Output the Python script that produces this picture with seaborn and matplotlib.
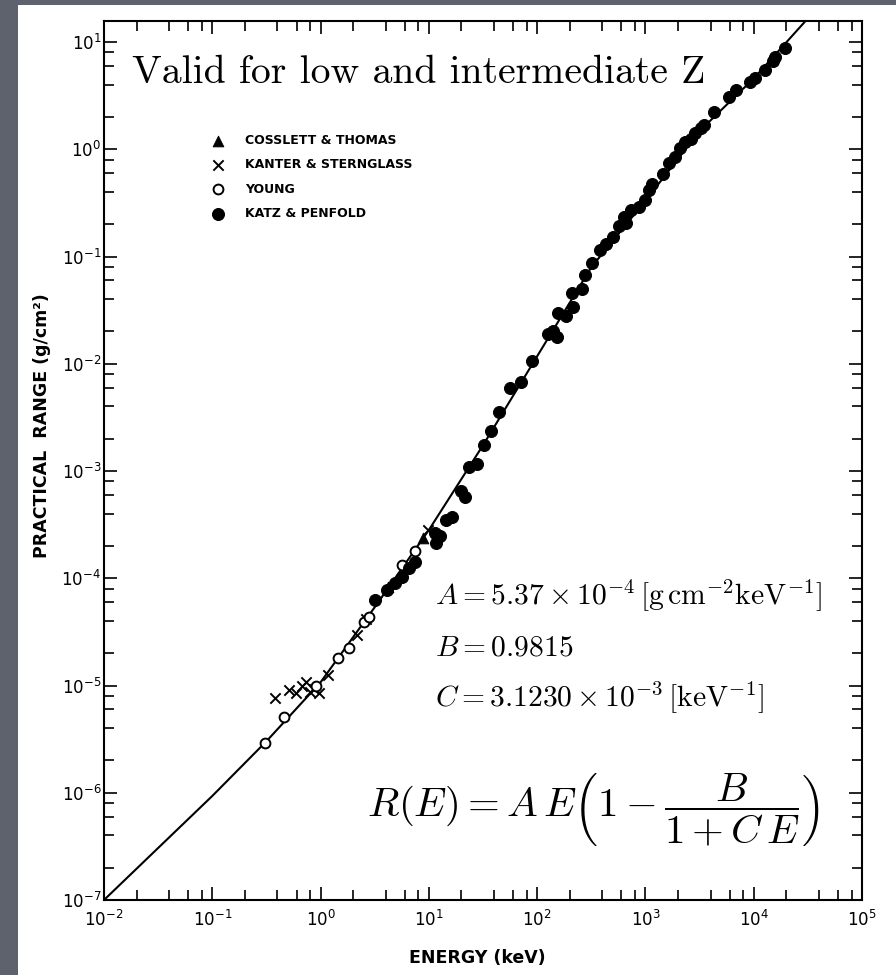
import matplotlib
matplotlib.use('Agg')
import matplotlib.pyplot as plt
import numpy as np
import seaborn as sns
from matplotlib.patches import Rectangle
from matplotlib.ticker import FixedLocator, LogLocator, NullFormatter

# values, stored as log10(energy / keV) and log10(range / g cm^-2)
curve_log_e = [-2.0, -1.0, -0.5, 0.0, 0.5, 1.0, 1.5, 2.0, 2.5, 3.0, 3.5, 4.0, 4.5]
curve_log_r = [-7.0, -6.03, -5.52, -4.97, -4.27, -3.55, -2.76, -1.93, -1.10, -0.48, 0.17, 0.66, 1.22]

cosslett_log_e = [0.62, 0.95]
cosslett_log_r = [-4.08, -3.62]

kanter_log_e = [-0.42, -0.29, -0.23, -0.17, -0.13, -0.10, -0.06, -0.01, 0.07, 0.34, 0.42, 0.99]
kanter_log_r = [-5.12, -5.04, -5.07, -5.00, -4.97, -5.06, -5.03, -5.07, -4.90, -4.53, -4.38, -3.55]

young_log_e = [-0.51, -0.34, -0.04, 0.16, 0.26, 0.40, 0.45, 0.75, 0.87]
young_log_r = [-5.54, -5.29, -5.00, -4.74, -4.65, -4.41, -4.36, -3.88, -3.75]

katz_log_e = [0.50, 0.61, 0.69, 0.75, 0.82, 0.87, 1.07, 1.10, 1.06, 1.16, 1.21, 1.30,
              1.33, 1.37, 1.44, 1.51, 1.57, 1.65, 1.75, 1.85, 1.95, 2.10, 2.18, 2.15,
              2.19, 2.27, 2.33, 2.32, 2.41, 2.44, 2.51, 2.58, 2.64, 2.70, 2.76, 2.82,
              2.80, 2.87, 2.94, 3.00, 3.03, 3.06, 3.16, 3.22, 3.27, 3.32, 3.37, 3.42,
              3.46, 3.51, 3.54, 3.63, 3.77, 3.84, 3.97, 4.01, 4.10, 4.18, 4.20, 4.29]
katz_log_r = [-4.20, -4.11, -4.04, -3.99, -3.90, -3.85, -3.67, -3.61, -3.58, -3.46, -3.43, -3.19,
              -3.24, -2.96, -2.93, -2.76, -2.63, -2.45, -2.23, -2.17, -1.97, -1.72, -1.75, -1.69,
              -1.53, -1.55, -1.47, -1.34, -1.30, -1.17, -1.06, -0.94, -0.88, -0.82, -0.72, -0.69,
              -0.63, -0.57, -0.54, -0.47, -0.38, -0.32, -0.23, -0.13, -0.07, 0.01, 0.07, 0.10,
              0.15, 0.20, 0.23, 0.35, 0.49, 0.55, 0.63, 0.66, 0.74, 0.82, 0.86, 0.94]

# decade exponents that carry a label
x_decades = [-2, -1, 0, 1, 2, 3, 4, 5]
y_decades = [-7, -6, -5, -4, -3, -2, -1, 0, 1]


def px(x, y):
    # figure pixel -> figure fraction
    return x / 896, 1 - y / 975


sns.set_style('ticks')
plt.rcParams['font.family'] = ['DejaVu Sans']
plt.rcParams['mathtext.fontset'] = 'cm'
for key in ('text.color', 'axes.labelcolor', 'xtick.color', 'ytick.color'):
    plt.rcParams[key] = 'black'

fig = plt.figure(figsize=(8.96, 9.75), dpi=100, facecolor='#5d626c')
fig.patches.append(Rectangle(px(18, 975), 878 / 896, 970 / 975, transform=fig.transFigure,
                             facecolor='white', edgecolor='none', zorder=-5))
ax = fig.add_axes([104 / 896, 75 / 975, 758 / 896, 879 / 975])
ax.set_facecolor('white')
ax.set_xscale('log')
ax.set_yscale('log')

sns.lineplot(x=10 ** np.array(curve_log_e), y=10 ** np.array(curve_log_r), ax=ax,
             color='black', lw=1.5, sort=False, estimator=None, zorder=2)

sns.scatterplot(x=10 ** np.array(cosslett_log_e), y=10 ** np.array(cosslett_log_r), ax=ax,
                marker='^', s=60, color='black', edgecolor='black', label='COSSLETT & THOMAS', zorder=3)
sns.scatterplot(x=10 ** np.array(kanter_log_e), y=10 ** np.array(kanter_log_r), ax=ax,
                marker='x', s=55, color='black', linewidth=1.4, label='KANTER & STERNGLASS', zorder=3)
sns.scatterplot(x=10 ** np.array(young_log_e), y=10 ** np.array(young_log_r), ax=ax,
                marker='o', s=50, facecolor='white', edgecolor='black', linewidth=1.4,
                label='YOUNG', zorder=3)
sns.scatterplot(x=10 ** np.array(katz_log_e), y=10 ** np.array(katz_log_r), ax=ax,
                marker='o', s=75, color='black', edgecolor='black', label='KATZ & PENFOLD', zorder=4)

ax.set_xlim(1e-2, 1e5)
ax.set_ylim(1e-7, 10 ** 1.196)

ax.xaxis.set_major_locator(FixedLocator(10.0 ** np.array(x_decades)))
ax.yaxis.set_major_locator(FixedLocator(10.0 ** np.array(y_decades)))
for axis in (ax.xaxis, ax.yaxis):
    axis.set_minor_locator(LogLocator(base=10, subs=[2, 4, 6, 8], numticks=20))
    axis.set_minor_formatter(NullFormatter())

ax.tick_params(which='both', direction='in', top=True, right=True, width=1.2, color='black')
ax.tick_params(which='major', length=9.5, labelsize=12)
ax.tick_params(which='minor', length=7)
ax.tick_params(axis='x', pad=7)
ax.tick_params(axis='y', pad=2)
for s in ax.spines.values():
    s.set_linewidth(1.5)
    s.set_color('black')

ax.set_xlabel('ENERGY (keV)', fontweight='bold', fontsize=12.5, va='center')
ax.xaxis.set_label_coords(0.493, -0.066)
ax.set_ylabel('PRACTICAL  RANGE (g/cm²)', fontweight='bold', fontsize=12.5, va='center')
ax.yaxis.set_label_coords(-0.082, 0.54)

ax.legend(loc='upper left', bbox_to_anchor=(0.135, 0.877), frameon=False,
          prop={'weight': 'bold', 'size': 9}, handletextpad=1.7, labelspacing=0.9,
          handlelength=1.0, borderaxespad=0, markerscale=1.0)

fig.text(*px(132, 83), 'Valid for low and intermediate Z', family='cmr10', fontsize=28.6,
         va='baseline', ha='left')
fig.text(*px(435, 605), r'$A = 5.37\times10^{-4}\,[\mathrm{g\,cm^{-2}keV^{-1}}]$',
         fontsize=21.3, va='baseline', ha='left')
fig.text(*px(435, 655), r'$B = 0.9815$', fontsize=21.3, va='baseline', ha='left')
fig.text(*px(435, 707), r'$C = 3.1230\times10^{-3}\,[\mathrm{keV^{-1}}]$',
         fontsize=21.3, va='baseline', ha='left')
fig.text(*px(367, 809), r'$R(E) = A\,E\left(1-\dfrac{B}{1+C\,E}\right)$',
         fontsize=29.5, va='center', ha='left')

fig.savefig('out.png', dpi=100, facecolor=fig.get_facecolor())
